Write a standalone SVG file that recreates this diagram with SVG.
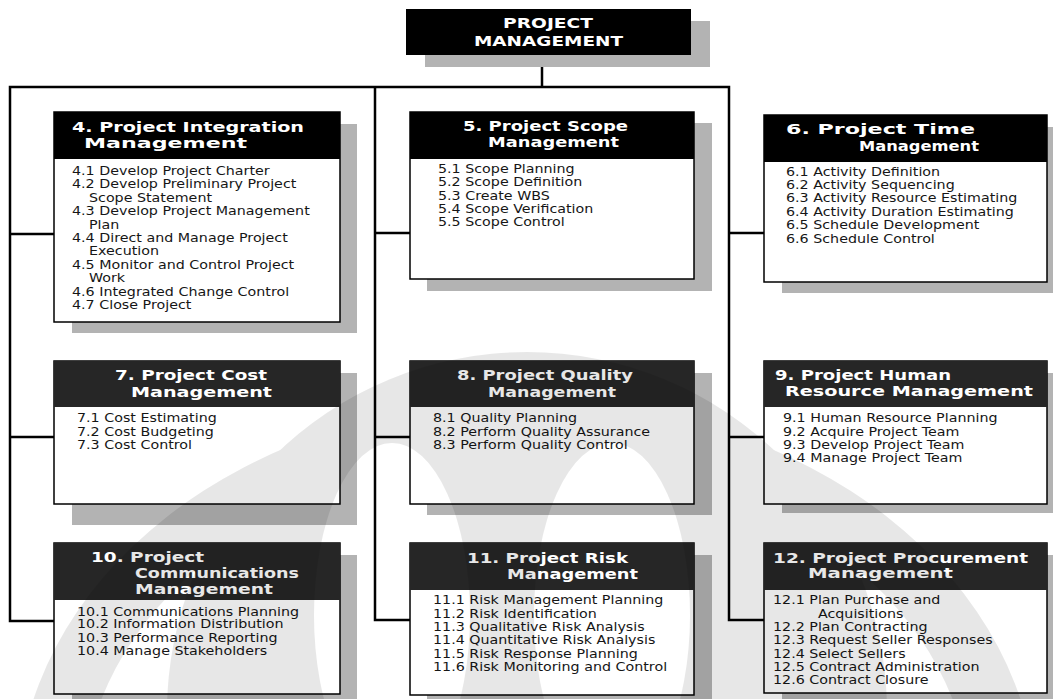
<svg xmlns="http://www.w3.org/2000/svg" width="1055" height="699" viewBox="0 0 1055 699">
  <style>
    .sh { fill: #b3b3b3; }
    .bx { fill: #ffffff; stroke: #000000; stroke-width: 1.5; }
    .hd { fill: #000000; }
    .hd2 { fill: #262626; }
    .ht { font-family: "DejaVu Sans", "Liberation Sans", sans-serif; font-weight: bold; font-size: 14.5px; fill: #ffffff; }
    .tt { font-family: "DejaVu Sans", "Liberation Sans", sans-serif; font-weight: bold; font-size: 14.5px; fill: #ffffff; }
    .bt { font-family: "DejaVu Sans", "Liberation Sans", sans-serif; font-size: 12px; fill: #161616; }
    .cn { stroke: #000000; stroke-width: 2.5; fill: none; stroke-linecap: square; }
  </style>

  <defs>
    <!-- two tall openings inside the emblem disc -->
    <mask id="emblemCut" maskUnits="userSpaceOnUse" x="0" y="0" width="1055" height="699">
      <rect x="0" y="0" width="1055" height="699" fill="#ffffff"/>
      <ellipse cx="392" cy="615" rx="78" ry="172" fill="#000000"/>
      <ellipse cx="612" cy="615" rx="78" ry="172" fill="#000000"/>
    </mask>
  </defs>

  <rect x="0" y="0" width="1055" height="699" fill="#ffffff"/>

  <!-- connectors -->
  <g id="connectors">
    <path class="cn" d="M542 55 V87 M10 87 H729 M10 87 V621 H54 M10 234 H54 M10 437 H54 M375 87 V620 H410 M375 233 H410 M375 437 H410 M729 87 V620 H764 M729 233 H764 M729 437 H764"/>
  </g>

  <!-- root -->
  <g id="project-management">
    <rect class="sh" x="425" y="21" width="285" height="46"/>
    <rect class="hd" x="406" y="9" width="285" height="46"/>
    <text class="tt" x="503" y="28" textLength="90" lengthAdjust="spacingAndGlyphs">PROJECT</text>
    <text class="tt" x="474" y="46" textLength="149" lengthAdjust="spacingAndGlyphs">MANAGEMENT</text>
  </g>

  <!-- 4. Integration -->
  <g id="integration">
    <rect class="sh" x="72" y="124" width="285" height="209"/>
    <rect class="bx" x="54" y="112" width="286" height="210"/>
    <rect class="hd" x="54" y="112" width="286" height="47"/>
    <text class="ht" x="72" y="131.5" textLength="232" lengthAdjust="spacingAndGlyphs">4. Project Integration</text>
    <text class="ht" x="84" y="148" textLength="163" lengthAdjust="spacingAndGlyphs">Management</text>
    <text class="bt" transform="translate(72 0) scale(1.19 1)">
      <tspan x="0" y="175">4.1 Develop Project Charter</tspan>
      <tspan x="0" y="188.4">4.2 Develop Preliminary Project</tspan>
      <tspan x="14.3" y="201.8">Scope Statement</tspan>
      <tspan x="0" y="215.2">4.3 Develop Project Management</tspan>
      <tspan x="14.3" y="228.6">Plan</tspan>
      <tspan x="0" y="242">4.4 Direct and Manage Project</tspan>
      <tspan x="14.3" y="255.4">Execution</tspan>
      <tspan x="0" y="268.8">4.5 Monitor and Control Project</tspan>
      <tspan x="14.3" y="282.2">Work</tspan>
      <tspan x="0" y="295.6">4.6 Integrated Change Control</tspan>
      <tspan x="0" y="309">4.7 Close Project</tspan>
    </text>
  </g>

  <!-- 5. Scope -->
  <g id="scope">
    <rect class="sh" x="427" y="123" width="285" height="168"/>
    <rect class="bx" x="410" y="112" width="284" height="167"/>
    <rect class="hd" x="410" y="112" width="284" height="47"/>
    <text class="ht" x="463" y="131" textLength="165" lengthAdjust="spacingAndGlyphs">5. Project Scope</text>
    <text class="ht" x="488" y="147" textLength="131" lengthAdjust="spacingAndGlyphs">Management</text>
    <text class="bt" transform="translate(438 0) scale(1.19 1)">
      <tspan x="0" y="173">5.1 Scope Planning</tspan>
      <tspan x="0" y="186.3">5.2 Scope Definition</tspan>
      <tspan x="0" y="199.6">5.3 Create WBS</tspan>
      <tspan x="0" y="212.9">5.4 Scope Verification</tspan>
      <tspan x="0" y="226.2">5.5 Scope Control</tspan>
    </text>
  </g>

  <!-- 6. Time -->
  <g id="time">
    <rect class="sh" x="782" y="127" width="271" height="166"/>
    <rect class="bx" x="764" y="115" width="283" height="167"/>
    <rect class="hd" x="764" y="115" width="283" height="47"/>
    <text class="ht" x="786" y="133.5" textLength="189" lengthAdjust="spacingAndGlyphs">6. Project Time</text>
    <text class="ht" x="859" y="150.5" textLength="120" lengthAdjust="spacingAndGlyphs">Management</text>
    <text class="bt" transform="translate(786 0) scale(1.19 1)">
      <tspan x="0" y="175.7">6.1 Activity Definition</tspan>
      <tspan x="0" y="189.1">6.2 Activity Sequencing</tspan>
      <tspan x="0" y="202.5">6.3 Activity Resource Estimating</tspan>
      <tspan x="0" y="215.9">6.4 Activity Duration Estimating</tspan>
      <tspan x="0" y="229.3">6.5 Schedule Development</tspan>
      <tspan x="0" y="242.7">6.6 Schedule Control</tspan>
    </text>
  </g>

  <!-- 7. Cost -->
  <g id="cost">
    <rect class="sh" x="72" y="373" width="285" height="152"/>
    <rect class="bx" x="54" y="361" width="286" height="143"/>
    <rect class="hd2" x="54" y="361" width="286" height="46"/>
    <text class="ht" x="115" y="379.5" textLength="152" lengthAdjust="spacingAndGlyphs">7. Project Cost</text>
    <text class="ht" x="131" y="396.5" textLength="141" lengthAdjust="spacingAndGlyphs">Management</text>
    <text class="bt" transform="translate(77 0) scale(1.19 1)">
      <tspan x="0" y="422.3">7.1 Cost Estimating</tspan>
      <tspan x="0" y="435.7">7.2 Cost Budgeting</tspan>
      <tspan x="0" y="449">7.3 Cost Control</tspan>
    </text>
  </g>

  <!-- 8. Quality -->
  <g id="quality">
    <rect class="sh" x="427" y="373" width="285" height="142"/>
    <rect class="bx" x="410" y="361" width="284" height="143"/>
    <rect class="hd2" x="410" y="361" width="284" height="46"/>
    <text class="ht" x="457" y="379.5" textLength="176" lengthAdjust="spacingAndGlyphs">8. Project Quality</text>
    <text class="ht" x="488" y="396.5" textLength="128" lengthAdjust="spacingAndGlyphs">Management</text>
    <text class="bt" transform="translate(433 0) scale(1.19 1)">
      <tspan x="0" y="422.3">8.1 Quality Planning</tspan>
      <tspan x="0" y="435.7">8.2 Perform Quality Assurance</tspan>
      <tspan x="0" y="449">8.3 Perform Quality Control</tspan>
    </text>
  </g>

  <!-- 9. Human Resource -->
  <g id="human-resource">
    <rect class="sh" x="782" y="373" width="271" height="140"/>
    <rect class="bx" x="764" y="361" width="283" height="143"/>
    <rect class="hd2" x="764" y="361" width="283" height="46"/>
    <text class="ht" x="775" y="379.5" textLength="176" lengthAdjust="spacingAndGlyphs">9. Project Human</text>
    <text class="ht" x="785" y="395.5" textLength="248" lengthAdjust="spacingAndGlyphs">Resource Management</text>
    <text class="bt" transform="translate(783 0) scale(1.19 1)">
      <tspan x="0" y="422.3">9.1 Human Resource Planning</tspan>
      <tspan x="0" y="435.7">9.2 Acquire Project Team</tspan>
      <tspan x="0" y="449">9.3 Develop Project Team</tspan>
      <tspan x="0" y="462.4">9.4 Manage Project Team</tspan>
    </text>
  </g>

  <!-- 10. Communications -->
  <g id="communications">
    <rect class="sh" x="72" y="555" width="285" height="150"/>
    <rect class="bx" x="54" y="543" width="286" height="151"/>
    <rect class="hd2" x="54" y="543" width="286" height="57"/>
    <text class="ht" x="91" y="562" textLength="113" lengthAdjust="spacingAndGlyphs">10. Project</text>
    <text class="ht" x="135" y="578" textLength="164" lengthAdjust="spacingAndGlyphs">Communications</text>
    <text class="ht" x="135" y="594" textLength="138" lengthAdjust="spacingAndGlyphs">Management</text>
    <text class="bt" transform="translate(77 0) scale(1.19 1)">
      <tspan x="0" y="615.7">10.1 Communications Planning</tspan>
      <tspan x="0" y="628.5">10.2 Information Distribution</tspan>
      <tspan x="0" y="641.8">10.3 Performance Reporting</tspan>
      <tspan x="0" y="655">10.4 Manage Stakeholders</tspan>
    </text>
  </g>

  <!-- 11. Risk -->
  <g id="risk">
    <rect class="sh" x="427" y="555" width="285" height="150"/>
    <rect class="bx" x="410" y="543" width="284" height="152"/>
    <rect class="hd2" x="410" y="543" width="284" height="47"/>
    <text class="ht" x="467" y="562.5" textLength="161" lengthAdjust="spacingAndGlyphs">11. Project Risk</text>
    <text class="ht" x="507" y="578.5" textLength="131" lengthAdjust="spacingAndGlyphs">Management</text>
    <text class="bt" transform="translate(433 0) scale(1.19 1)">
      <tspan x="0" y="604.5">11.1 Risk Management Planning</tspan>
      <tspan x="0" y="617.8">11.2 Risk Identification</tspan>
      <tspan x="0" y="631.1">11.3 Qualitative Risk Analysis</tspan>
      <tspan x="0" y="644.4">11.4 Quantitative Risk Analysis</tspan>
      <tspan x="0" y="657.7">11.5 Risk Response Planning</tspan>
      <tspan x="0" y="671">11.6 Risk Monitoring and Control</tspan>
    </text>
  </g>

  <!-- 12. Procurement -->
  <g id="procurement">
    <rect class="sh" x="782" y="555" width="271" height="150"/>
    <rect class="bx" x="764" y="543" width="283" height="150"/>
    <rect class="hd2" x="764" y="543" width="283" height="47"/>
    <text class="ht" x="773" y="562.5" textLength="255" lengthAdjust="spacingAndGlyphs">12. Project Procurement</text>
    <text class="ht" x="808" y="577.5" textLength="145" lengthAdjust="spacingAndGlyphs">Management</text>
    <text class="bt" transform="translate(773 0) scale(1.19 1)">
      <tspan x="0" y="604.5">12.1 Plan Purchase and</tspan>
      <tspan x="37.8" y="617.8">Acquisitions</tspan>
      <tspan x="0" y="631.1">12.2 Plan Contracting</tspan>
      <tspan x="0" y="644.4">12.3 Request Seller Responses</tspan>
      <tspan x="0" y="657.7">12.4 Select Sellers</tspan>
      <tspan x="0" y="671">12.5 Contract Administration</tspan>
      <tspan x="0" y="684.3">12.6 Contract Closure</tspan>
    </text>
  </g>

  <!-- faint emblem laid over the lower half -->
  <g id="emblem" mask="url(#emblemCut)" opacity="0.09" fill="#000000">
    <circle cx="527" cy="712" r="360"/>
    <path fill-rule="evenodd" d="M17 800 A510 400 0 0 1 1037 800 Z M82 800 A445 345 0 0 1 972 800 Z"/>
  </g>
</svg>
